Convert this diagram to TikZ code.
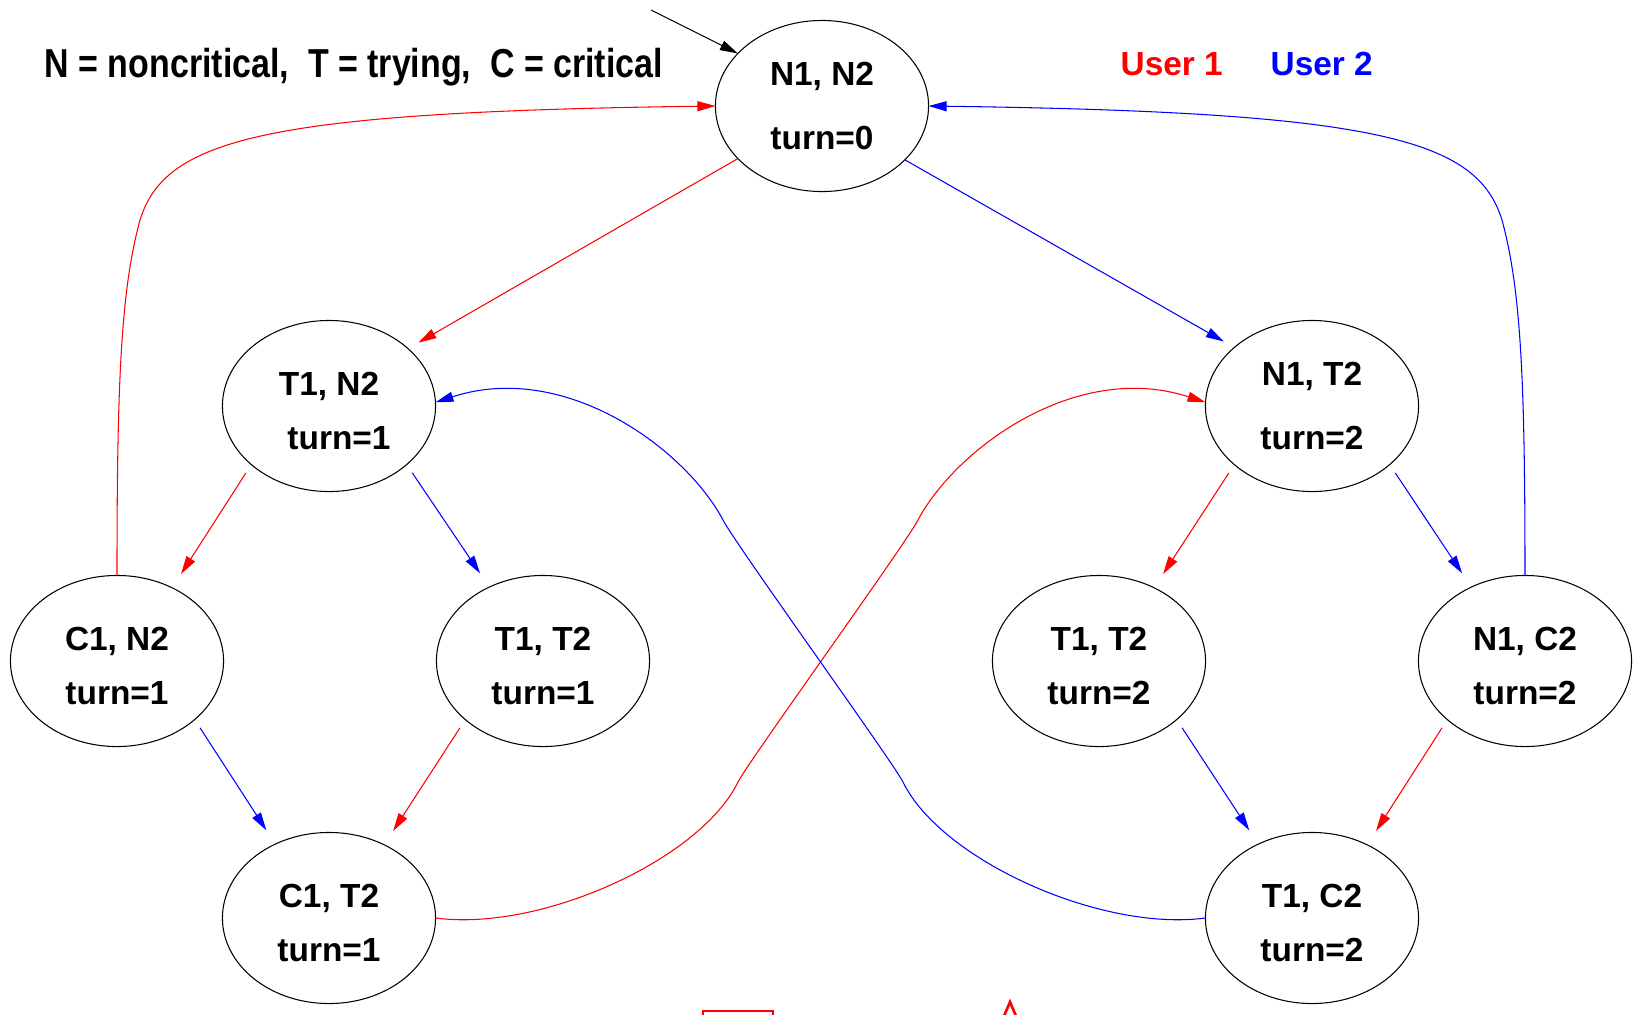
\documentclass[tikz,border=0pt]{standalone}
\usepackage{fontspec}
\setmainfont{Liberation Sans}
\usepackage{graphicx}
\usetikzlibrary{shapes.geometric, arrows.meta}
\newcommand{\statefont}{\fontsize{9.5}{15.3}\selectfont\bfseries}
\newcommand{\lift}{\rule{0pt}{0.34cm}}
\tikzstyle{state} = [ellipse, draw=black, line width=0.3pt, minimum width=2.13cm, minimum height=1.71cm, inner sep=0pt, outer sep=0pt, align=center, font=\statefont]
\tikzstyle{arrow} = [line width=0.3pt, -{Triangle[length=1.8mm, width=1mm]}]
\tikzstyle{user1} = [arrow, red]
\tikzstyle{user2} = [arrow, blue]
\tikzstyle{hop} = [shorten <=1mm, shorten >=1.65mm]
\tikzstyle{legend} = [anchor=base west, inner sep=0pt, font=\fontsize{9.5}{11}\selectfont\bfseries]

\begin{document}
\begin{tikzpicture}[x=0.01cm, y=-0.01cm]
		\useasboundingbox (0,0) rectangle (1635,1014);
		\clip (0,0) rectangle (1635,1014);
		% states
		\node (nn) [state] at (822,106) {N1, N2\\[0.1cm]turn=0};
		\node (tn) [state] at (329,406) {\lift T1, N2\\\hspace*{0.2cm}turn=1};
		\node (nt) [state] at (1312,406) {N1, T2\\[0.1cm]turn=2};
		\node (cn) [state] at (117,661) {\lift C1, N2\\turn=1};
		\node (ttl) [state] at (543,661) {\lift T1, T2\\turn=1};
		\node (ttr) [state] at (1099,661) {\lift T1, T2\\turn=2};
		\node (nc) [state] at (1525,661) {\lift N1, C2\\turn=2};
		\node (ct) [state] at (329,918) {\lift C1, T2\\turn=1};
		\node (tc) [state] at (1312,918) {\lift T1, C2\\turn=2};
		% labels
		\node (key) [legend] at (44,77) {\scalebox{0.84}[1]{\fontsize{11.5}{14}\selectfont N = noncritical,\ \ T = trying,\ \ C = critical}};
		\node (u1) [legend, red] at (1120,75) {User 1};
		\node (u2) [legend, blue] at (1270,75) {User 2};
		% start
		\coordinate (init) at (651,10);
		\draw [arrow] (init) -- (nn.148);
		\draw [user1, shorten >=1.2mm] (nn.212.6) -- (tn.36.8);
		\draw [user2, shorten >=1.2mm] (nn.-33) -- (nt.143);
		\draw [user1, hop] (tn.217) -- (cn.53);
		\draw [user2, hop] (tn.-37) -- (ttl.126);
		\draw [user1, hop] (nt.217) -- (ttr.53);
		\draw [user2, hop] (nt.-37) -- (nc.126);
		\draw [user2, hop] (cn.-37) -- (ct.126);
		\draw [user1, hop] (ttl.217) -- (ct.53);
		\draw [user2, hop] (ttr.-37) -- (tc.126);
		\draw [user1, hop] (nc.217) -- (tc.53);
		% back to the start state
		\draw [user1] (cn.north) .. controls (117,380) and (121,290) .. (140,220) .. controls (165,140) and (260,112) .. (nn.west);
		\draw [user2] (nc.north) .. controls (1525,380) and (1521,290) .. (1502,220) .. controls (1477,140) and (1382,112) .. (nn.east);
		% crossing ones
		\draw [user1] (ct.east) .. controls (540,932) and (700,860) .. (738,782) .. controls (748,762) and (905,545) .. (918,520) .. controls (955,450) and (1075,360) .. (nt.178);
		\draw [user2] (tc.west) .. controls (1101,932) and (941,860) .. (903,782) .. controls (893,762) and (736,545) .. (723,520) .. controls (686,450) and (566,360) .. (tn.2);
		% cut at the lower edge
		\draw [red, line width=0.75pt] (703,1040) -- (703,1011) -- (773,1011) -- (773,1040);
		\draw [red, line width=0.75pt] (998,1030) -- (1010,1002) -- (1022,1030);
	\end{tikzpicture}
\end{document}
